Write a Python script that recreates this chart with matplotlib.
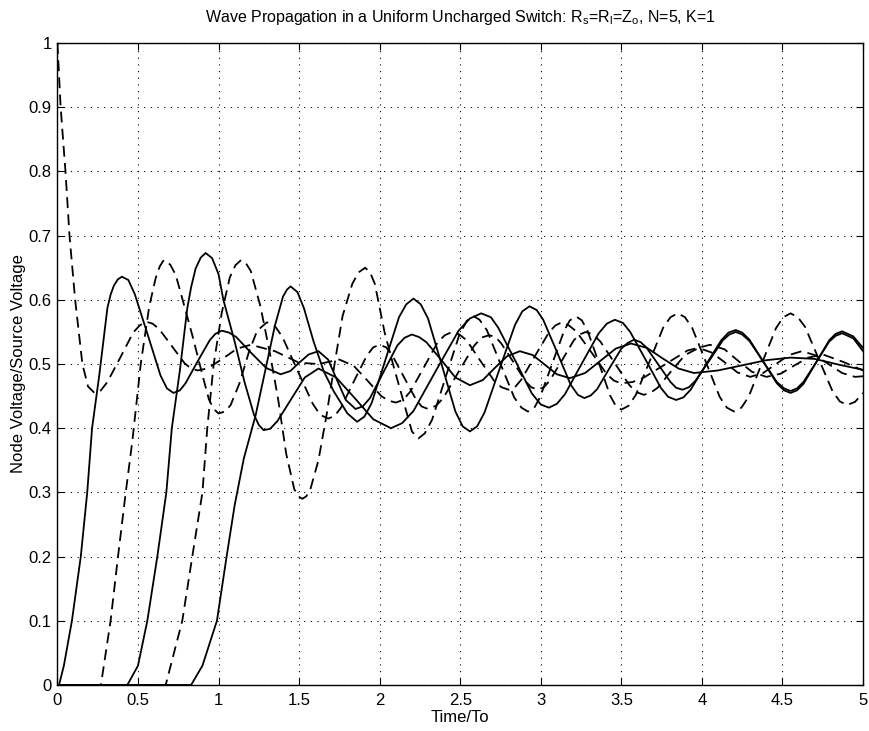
import matplotlib
matplotlib.use('Agg')
import matplotlib.pyplot as plt

plt.rcParams['font.family'] = ['Liberation Sans', 'DejaVu Sans']
plt.rcParams['mathtext.default'] = 'regular'

# node voltages (time in units of To)
A_t = [0.0, 0.02, 0.05, 0.075, 0.11, 0.155, 0.19, 0.23, 0.27, 0.31, 0.39, 0.47, 0.51, 0.55, 0.59, 0.63, 0.71,
       0.79, 0.83, 0.87, 0.91, 0.95, 1.035, 1.115, 1.2, 1.35, 1.5, 1.62, 1.75, 1.84, 1.925, 2.01, 2.055, 2.1,
       2.145, 2.19, 2.275, 2.36, 2.405, 2.45, 2.495, 2.54, 2.625, 2.71, 2.755, 2.8, 2.84, 2.88, 2.965, 3.05,
       3.09, 3.13, 3.175, 3.22, 3.315, 3.41, 3.455, 3.5, 3.57, 3.64, 3.775, 3.91, 4.05, 4.14, 4.225, 4.31,
       4.4, 4.49, 4.575, 4.66, 4.75, 4.88, 5.0]
A_v = [1.0, 0.9, 0.8, 0.7, 0.6, 0.5, 0.465, 0.455, 0.459, 0.472, 0.51, 0.549, 0.56, 0.566, 0.563, 0.555, 0.528,
       0.501, 0.493, 0.49, 0.492, 0.496, 0.51, 0.524, 0.53, 0.52, 0.502, 0.5, 0.507, 0.497, 0.474, 0.45, 0.443, 0.44,
       0.444, 0.457, 0.495, 0.534, 0.545, 0.55, 0.546, 0.537, 0.505, 0.474, 0.464, 0.46, 0.464, 0.476, 0.513, 0.549,
       0.56, 0.565, 0.56, 0.551, 0.518, 0.484, 0.474, 0.47, 0.472, 0.479, 0.5, 0.521, 0.53, 0.523, 0.505, 0.488,
       0.48, 0.485, 0.498, 0.51, 0.515, 0.503, 0.49]

B_t = [0.0, 0.01, 0.04, 0.09, 0.145, 0.185, 0.215, 0.26, 0.31, 0.33, 0.35, 0.375, 0.40, 0.44, 0.48, 0.56, 0.64,
       0.68, 0.72, 0.76, 0.795, 0.87, 0.945, 0.98, 1.02, 1.065, 1.11, 1.20, 1.295, 1.385, 1.445, 1.50, 1.56, 1.62,
       1.68, 1.735, 1.79, 1.85, 1.895, 1.94, 2.025, 2.11, 2.155, 2.2, 2.245, 2.29, 2.38, 2.47, 2.56, 2.64, 2.715,
       2.79, 2.87, 2.95, 3.025, 3.10, 3.18, 3.275, 3.37, 3.465, 3.56, 3.66, 3.755, 3.855, 3.95, 4.1, 4.25, 4.4,
       4.55, 4.7, 4.85, 5.0]
B_v = [0.0, 0.0, 0.03, 0.1, 0.2, 0.3, 0.4, 0.483, 0.587, 0.608, 0.622, 0.632, 0.636, 0.631, 0.609, 0.546, 0.482,
       0.462, 0.455, 0.459, 0.470, 0.504, 0.537, 0.547, 0.552, 0.549, 0.542, 0.518, 0.494, 0.484, 0.489, 0.502, 0.515,
       0.52, 0.507, 0.475, 0.444, 0.43, 0.434, 0.447, 0.488, 0.529, 0.541, 0.546, 0.542, 0.534, 0.507, 0.479, 0.467,
       0.475, 0.494, 0.512, 0.52, 0.514, 0.499, 0.484, 0.478, 0.486, 0.505, 0.524, 0.532, 0.525, 0.509, 0.493, 0.486,
       0.490, 0.498, 0.506, 0.51, 0.508, 0.499, 0.491]

C_t = [0.0, 0.27, 0.33, 0.376, 0.424, 0.465, 0.517, 0.57, 0.61, 0.635, 0.66, 0.70, 0.734, 0.775, 0.837, 0.9,
       0.94, 0.97, 1.0, 1.04, 1.075, 1.13, 1.19, 1.24, 1.3, 1.35, 1.395, 1.49, 1.585, 1.63, 1.68, 1.72, 1.76,
       1.84, 1.92, 1.96, 2.0, 2.04, 2.075, 2.15, 2.225, 2.26, 2.3, 2.35, 2.395, 2.49, 2.585, 2.63, 2.68, 2.72,
       2.755, 2.83, 2.905, 2.94, 2.98, 3.02, 3.055, 3.13, 3.205, 3.24, 3.28, 3.325, 3.37, 3.46, 3.55, 3.595,
       3.64, 3.685, 3.725, 3.81, 3.895, 3.98, 4.06, 4.14, 4.22, 4.3, 4.38, 4.46, 4.54, 4.62, 4.70, 4.785,
       4.87, 4.95, 5.0]
C_v = [0.0, 0.0, 0.1, 0.2, 0.3, 0.38, 0.5, 0.59, 0.634, 0.652, 0.662, 0.655, 0.639, 0.602, 0.545, 0.483,
       0.445, 0.43, 0.423, 0.426, 0.436, 0.47, 0.52, 0.552, 0.565, 0.559, 0.543, 0.49, 0.438, 0.421, 0.415, 0.419, 0.432,
       0.473, 0.513, 0.526, 0.53, 0.526, 0.515, 0.48, 0.445, 0.434, 0.43, 0.435, 0.447, 0.488, 0.528, 0.541, 0.545, 0.542,
       0.532, 0.503, 0.473, 0.464, 0.46, 0.464, 0.474, 0.505, 0.537, 0.546, 0.55, 0.546, 0.535, 0.501, 0.467, 0.456,
       0.452, 0.456, 0.463, 0.489, 0.514, 0.525, 0.518, 0.503, 0.487, 0.48, 0.486, 0.5, 0.514, 0.52, 0.514, 0.5,
       0.486, 0.48, 0.481]

D_t = [0.0, 0.434, 0.5, 0.558, 0.62, 0.676, 0.71, 0.76, 0.806, 0.83, 0.858, 0.89, 0.92, 0.96, 1.0, 1.03, 1.1,
       1.16, 1.22, 1.25, 1.28, 1.32, 1.365, 1.45, 1.535, 1.62, 1.73, 1.845, 1.96, 2.07, 2.14, 2.21, 2.35, 2.49,
       2.56, 2.63, 2.69, 2.735, 2.84, 2.945, 3.0, 3.05, 3.1, 3.15, 3.255, 3.36, 3.41, 3.46, 3.51, 3.555, 3.65,
       3.745, 3.79, 3.84, 3.885, 3.93, 4.025, 4.12, 4.165, 4.21, 4.25, 4.295, 4.38, 4.465, 4.51, 4.55, 4.59,
       4.63, 4.71, 4.79, 4.83, 4.87, 4.94, 5.0]
D_v = [0.0, 0.0, 0.03, 0.1, 0.2, 0.3, 0.4, 0.49, 0.587, 0.62, 0.649, 0.666, 0.673, 0.665, 0.64, 0.6, 0.535,
       0.473, 0.421, 0.405, 0.397, 0.399, 0.411, 0.445, 0.479, 0.493, 0.479, 0.447, 0.414, 0.40, 0.408, 0.427, 0.49, 0.552,
       0.571, 0.579, 0.573, 0.557, 0.506, 0.454, 0.437, 0.432, 0.438, 0.453, 0.501, 0.548, 0.563, 0.569, 0.564, 0.550, 0.507,
       0.463, 0.449, 0.444, 0.448, 0.460, 0.499, 0.537, 0.549, 0.553, 0.549, 0.538, 0.504, 0.470, 0.459, 0.455, 0.459,
       0.469, 0.503, 0.537, 0.547, 0.551, 0.543, 0.525]

E_t = [0.0, 0.672, 0.775, 0.837, 0.9, 0.93, 0.97, 1.02, 1.07, 1.105, 1.14, 1.17, 1.2, 1.26, 1.32, 1.37, 1.42,
       1.47, 1.495, 1.52, 1.545, 1.57, 1.62, 1.67, 1.72, 1.77, 1.83, 1.87, 1.91, 1.94, 1.97, 2.03, 2.09, 2.15,
       2.2, 2.24, 2.28, 2.325, 2.41, 2.495, 2.54, 2.58, 2.62, 2.665, 2.75, 2.835, 2.88, 2.92, 2.96, 2.995, 3.07,
       3.145, 3.18, 3.22, 3.255, 3.29, 3.36, 3.43, 3.465, 3.5, 3.545, 3.59, 3.675, 3.76, 3.805, 3.85, 3.895,
       3.94, 4.025, 4.11, 4.155, 4.2, 4.245, 4.29, 4.375, 4.46, 4.505, 4.55, 4.595, 4.64, 4.725, 4.81, 4.855,
       4.9, 4.95, 5.0]
E_v = [0.0, 0.0, 0.1, 0.2, 0.3, 0.4, 0.5, 0.58, 0.635, 0.654, 0.662, 0.657, 0.645, 0.59, 0.515, 0.445, 0.36,
       0.305, 0.294, 0.29, 0.294, 0.305, 0.35, 0.42, 0.5, 0.575, 0.625, 0.643, 0.65, 0.643, 0.625, 0.55, 0.493, 0.44,
       0.395, 0.384, 0.392, 0.413, 0.48, 0.546, 0.567, 0.575, 0.569, 0.553, 0.5, 0.448, 0.432, 0.426, 0.432, 0.448, 0.5,
       0.552, 0.568, 0.574, 0.568, 0.552, 0.502, 0.451, 0.435, 0.429, 0.435, 0.452, 0.504, 0.557, 0.573, 0.579, 0.573,
       0.556, 0.503, 0.449, 0.432, 0.426, 0.432, 0.449, 0.503, 0.556, 0.573, 0.579, 0.573, 0.558, 0.508, 0.458, 0.442,
       0.436, 0.441, 0.455]

F_t = [0.0, 0.83, 0.9, 0.99, 1.05, 1.1, 1.157, 1.23, 1.29, 1.35, 1.40, 1.425, 1.447, 1.49, 1.53, 1.59, 1.654,
       1.716, 1.8, 1.86, 1.905, 1.95, 2.035, 2.12, 2.165, 2.21, 2.255, 2.30, 2.385, 2.47, 2.515, 2.56, 2.605,
       2.65, 2.745, 2.84, 2.885, 2.93, 2.975, 3.015, 3.10, 3.185, 3.23, 3.27, 3.31, 3.35, 3.425, 3.50, 3.54,
       3.58, 3.62, 3.655, 3.73, 3.805, 3.84, 3.88, 3.92, 3.96, 4.045, 4.13, 4.17, 4.21, 4.25, 4.295, 4.38,
       4.465, 4.51, 4.55, 4.59, 4.63, 4.71, 4.79, 4.83, 4.87, 4.94, 5.0]
F_v = [0.0, 0.0, 0.03, 0.1, 0.2, 0.28, 0.353, 0.42, 0.49, 0.56, 0.605, 0.616, 0.621, 0.612, 0.587, 0.535, 0.488,
       0.457, 0.423, 0.41, 0.418, 0.439, 0.506, 0.573, 0.593, 0.602, 0.593, 0.571, 0.499, 0.426, 0.403, 0.395, 0.403,
       0.424, 0.493, 0.561, 0.582, 0.59, 0.584, 0.569, 0.519, 0.468, 0.452, 0.447, 0.451, 0.461, 0.493, 0.524, 0.533,
       0.538, 0.534, 0.526, 0.499, 0.472, 0.463, 0.46, 0.464, 0.474, 0.505, 0.537, 0.546, 0.55, 0.546, 0.536, 0.504,
       0.472, 0.462, 0.458, 0.462, 0.472, 0.503, 0.535, 0.544, 0.548, 0.54, 0.52]

x_ticks = [0, 0.5, 1, 1.5, 2, 2.5, 3, 3.5, 4, 4.5, 5]
x_labels = ['0', '0.5', '1', '1.5', '2', '2.5', '3', '3.5', '4', '4.5', '5']
y_ticks = [0, 0.1, 0.2, 0.3, 0.4, 0.5, 0.6, 0.7, 0.8, 0.9, 1]
y_labels = ['0', '0.1', '0.2', '0.3', '0.4', '0.5', '0.6', '0.7', '0.8', '0.9', '1']

fig = plt.figure(figsize=(8.7, 7.31), dpi=100)
ax = fig.add_axes([0.066, 0.063, 0.926, 0.878])

dash = (0, (6, 3.5))
kw = dict(color='k', lw=1.3, solid_joinstyle='round', dash_joinstyle='round')
ax.plot(A_t, A_v, linestyle=dash, **kw)
ax.plot(B_t, B_v, **kw)
ax.plot(C_t, C_v, linestyle=dash, **kw)
ax.plot(D_t, D_v, **kw)
ax.plot(E_t, E_v, linestyle=dash, **kw)
ax.plot(F_t, F_v, **kw)

ax.set_xlim(0, 5)
ax.set_ylim(0, 1)
ax.set_xticks(x_ticks)
ax.set_xticklabels(x_labels)
ax.set_yticks(y_ticks)
ax.set_yticklabels(y_labels)
ax.tick_params(direction='in', length=5, width=0.8, top=True, right=True, labelsize=12)
ax.tick_params(axis='x', pad=6)
ax.tick_params(axis='y', pad=4)
ax.grid(True, color='k', linestyle=(0, (1, 5)), linewidth=0.8)
for s in ax.spines.values():
    s.set_linewidth(1.0)

ax.set_xlabel('Time/To', fontsize=12, labelpad=1)
ax.set_ylabel('Node Voltage/Source Voltage', fontsize=12, labelpad=2)
ax.set_title('Wave Propagation in a Uniform Uncharged Switch: R$_s$=R$_l$=Z$_o$, N=5, K=1',
             fontsize=11.5, pad=15)

fig.savefig('out.png', dpi=100)
